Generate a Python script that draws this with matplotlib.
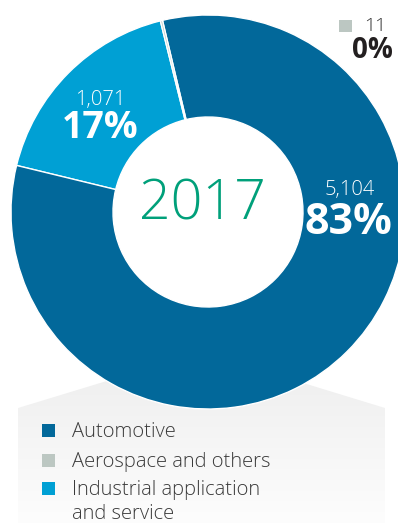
import numpy as np
import matplotlib.pyplot as plt
from matplotlib.colors import LinearSegmentedColormap
from matplotlib.patches import Polygon, Rectangle

# Sales by segment, 2017
segments = ["Automotive", "Aerospace and others", "Industrial application\nand service"]
sales = [5104, 11, 1071]
shares = ["83%", "0%", "17%"]
value_labels = ["5,104", "11", "1,071"]
colors = ["#02689a", "#bcc7c2", "#00a0d4"]
year = "2017"

W, H = 398, 523

def Y(y):
    # flip from top-down pixel rows to axes coordinates
    return H - y

plt.rcParams['font.family'] = ['Open Sans', 'DejaVu Sans']

fig = plt.figure(figsize=(W / 100, H / 100), dpi=100)
ax = fig.add_axes([0, 0, 1, 1])

# light gray box behind the legend, fading to white
poly = Polygon([(18, Y(408)), (202, Y(352)), (385, Y(408)), (385, 0), (18, 0)],
               closed=True, facecolor='none', edgecolor='none')
ax.add_patch(poly)
grad = np.linspace(0, 1, 256).reshape(-1, 1)
fade = LinearSegmentedColormap.from_list('fade', ['#fdfdfd', '#ededed'])
im = ax.imshow(grad, extent=(18, 385, 0, Y(352)), cmap=fade,
               aspect='auto', origin='lower', zorder=0)
im.set_clip_path(poly)

# donut: industrial, automotive, aerospace counter-clockwise from the top-left cut
order = [2, 0, 1]
ax.pie([sales[i] for i in order], colors=[colors[i] for i in order],
       startangle=104, counterclock=True, radius=197, center=(208, Y(212)),
       wedgeprops=dict(width=102, edgecolor='white', linewidth=1.0))

ax.set_xlim(0, W)
ax.set_ylim(0, H)
ax.set_aspect('auto')
ax.axis('off')

ax.text(202, Y(205), year, color='#00a07a', fontsize=40, fontweight='light',
        ha='center', va='center')

# automotive
ax.text(350, Y(190), value_labels[0], color='white', fontsize=14.5, fontweight='light',
        ha='center', va='center')
ax.text(348, Y(222), shares[0], color='white', fontsize=31, fontweight='bold',
        ha='center', va='center')
# industrial
ax.text(100, Y(100), value_labels[2], color='white', fontsize=14.5, fontweight='light',
        ha='center', va='center')
ax.text(100, Y(128), shares[2], color='white', fontsize=27, fontweight='bold',
        ha='center', va='center')
# aerospace
ax.add_patch(Rectangle((339, Y(32)), 13, 12, facecolor=colors[1], edgecolor='none'))
ax.text(364, Y(26), value_labels[1], color='#333333', fontsize=14, fontweight='light',
        ha='left', va='center')
ax.text(352, Y(51), shares[1], color='#231f20', fontsize=20, fontweight='bold',
        ha='left', va='center')

# legend
rows = [430, 460, 488]
for name, c, y in zip(segments, colors, rows):
    ax.add_patch(Rectangle((42, Y(y + 6.5)), 13, 13, facecolor=c, edgecolor='none'))
    ax.text(72, Y(y - 8), name, color='#3a3a3a', fontsize=14.5, fontweight='light',
            ha='left', va='top', linespacing=1.25)

fig.savefig('out.png', dpi=100)
